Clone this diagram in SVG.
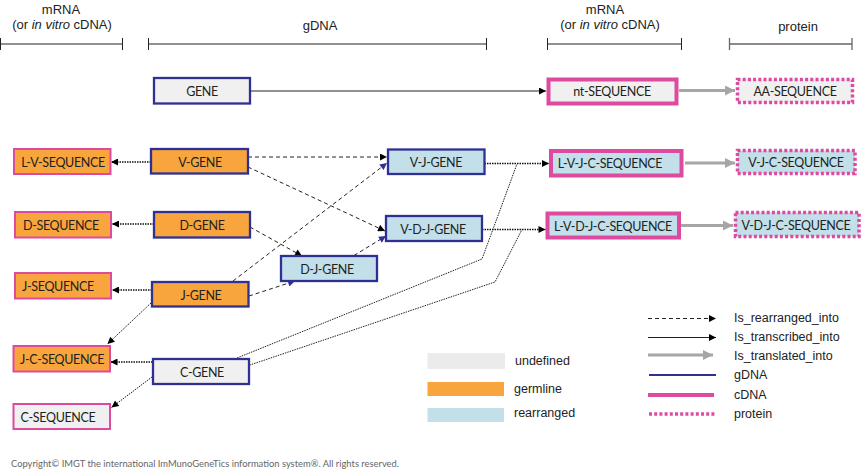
<svg xmlns="http://www.w3.org/2000/svg" width="861" height="470" viewBox="0 0 861 470">
<style>
.hd{font-family:"Liberation Sans",Arial,sans-serif;font-size:13px;fill:#222;text-anchor:middle}
.lg{font-family:"Liberation Sans",Arial,sans-serif;font-size:12.5px;fill:#222}
.nt{font-family:Lato,"Open Sans",sans-serif;font-size:12.5px;letter-spacing:-0.35px;fill:#231f20;text-anchor:middle}
.bar{stroke:#222;stroke-width:1;fill:none}
.gd{stroke:#2e3192;stroke-width:2.3}
.cd{stroke:#dd4aa0;stroke-width:2}
.cdt{stroke:#dd4aa0;stroke-width:4}
.pr{stroke:#dd4aa0;stroke-width:3.5;stroke-dasharray:3 2.2}
.und{fill:#f0f0f0}
.grm{fill:#f8a53d}
.rea{fill:#c2dfea}
.dash{stroke:#222;stroke-width:1;stroke-dasharray:4 3;fill:none}
.tr{stroke:#111;stroke-width:1.6;stroke-dasharray:1.5 1;fill:none}
.trt{stroke:#222;stroke-width:1;stroke-dasharray:1.5 1;fill:none}
.sol{stroke:#222;stroke-width:1;fill:none}
.gr{stroke:#a6a6a6;stroke-width:3;fill:none}
</style>
<defs>
<marker id="ab" viewBox="0 0 10 10" refX="10" refY="5" markerWidth="9" markerHeight="7" markerUnits="userSpaceOnUse" orient="auto"><path d="M0,0 L10,5 L0,10 z" fill="#000"/></marker>
<marker id="an" viewBox="0 0 10 10" refX="10" refY="5" markerWidth="9" markerHeight="7" markerUnits="userSpaceOnUse" orient="auto"><path d="M0,0 L10,5 L0,10 z" fill="#2e3192"/></marker>
<marker id="ag" viewBox="0 0 10 10" refX="10" refY="5" markerWidth="12" markerHeight="10" markerUnits="userSpaceOnUse" orient="auto"><path d="M0,0 L10,5 L0,10 z" fill="#a6a6a6"/></marker>
</defs>

<g id="headers">
<text class="hd" x="61" y="13.5">mRNA</text>
<text class="hd" x="62" y="29">(or <tspan font-style="italic">in vitro</tspan> cDNA)</text>
<path class="bar" d="M0.5,44 H122.5 M0.5,38 V50 M122.5,38 V50"/>
<text class="hd" x="320" y="29.5">gDNA</text>
<path class="bar" d="M148.5,44 H486.5 M148.5,38 V50 M486.5,38 V50"/>
<text class="hd" x="605" y="13.5">mRNA</text>
<text class="hd" x="610" y="29">(or <tspan font-style="italic">in vitro</tspan> cDNA)</text>
<path class="bar" d="M547.5,44 H681.5 M547.5,38 V50 M681.5,38 V50"/>
<text class="hd" x="798" y="30.5">protein</text>
<path class="bar" style="stroke:#666;stroke-width:1.3" d="M729.5,44 H852 M729.5,38 V50 M852,38 V50"/>
</g>

<g id="connectors">
<path class="sol" d="M250,91 L546,91" marker-end="url(#ab)"/>
<path class="gr" d="M679,90.5 L735,90.5" marker-end="url(#ag)"/>
<path class="gr" d="M685,163 L735,163" marker-end="url(#ag)"/>
<path class="gr" d="M681,225.5 L733,225.5" marker-end="url(#ag)"/>
<path class="tr" d="M151,162 L111,162" marker-end="url(#ab)"/>
<path class="tr" d="M154,224 L112,224" marker-end="url(#ab)"/>
<path class="tr" d="M152,290 L112,290" marker-end="url(#ab)"/>
<path class="tr" d="M152.5,362 L110.5,362" marker-end="url(#ab)"/>
<path class="trt" d="M151,303 L107.5,344" marker-end="url(#ab)"/>
<path class="trt" d="M152,377 L111.5,407.5" marker-end="url(#ab)"/>
<path class="dash" d="M248,157 L387,157" marker-end="url(#ab)"/>
<path class="dash" d="M248,167 L385,231" marker-end="url(#ab)"/>
<path class="dash" d="M250,227 L302,256" marker-end="url(#ab)"/>
<path class="dash" d="M249,296 L295,281" marker-end="url(#an)"/>
<path class="dash" d="M233,281 L387,163" marker-end="url(#an)"/>
<path class="dash" d="M354,255.5 L386,236" marker-end="url(#an)"/>
<path class="tr" d="M484.5,163.5 L549,163.5" marker-end="url(#ab)"/>
<path class="tr" d="M482,229.5 L545.5,229.5" marker-end="url(#ab)"/>
<path class="trt" d="M237,358 L482,259 L517,164"/>
<path class="trt" d="M247,366 L495,282 L522,229.5"/>
</g>

<g id="gene"><rect class="und gd" x="154" y="78" width="96" height="25.5"/><text class="nt" x="202" y="95.5">GENE</text></g>
<g id="nt-sequence"><rect class="und cdt" x="548.5" y="79.5" width="128" height="24"/><text class="nt" x="612" y="96">nt-SEQUENCE</text></g>
<g id="aa-sequence"><rect class="und pr" x="737.5" y="79.5" width="115" height="23"/><text class="nt" x="795" y="96">AA-SEQUENCE</text></g>

<g id="l-v-sequence"><rect class="grm cd" x="14" y="149" width="96.5" height="25"/><text class="nt" x="63" y="166.5">L-V-SEQUENCE</text></g>
<g id="v-gene"><rect class="grm gd" x="151" y="149" width="97" height="24.5"/><text class="nt" x="200" y="166.5">V-GENE</text></g>
<g id="v-j-gene"><rect class="rea gd" x="388" y="149.5" width="96.5" height="24.5"/><text class="nt" x="436" y="167">V-J-GENE</text></g>
<g id="l-v-j-c-sequence"><rect class="rea cdt" x="551" y="151" width="130.5" height="24.5"/><text class="nt" x="610" y="167.5">L-V-J-C-SEQUENCE</text></g>
<g id="v-j-c-sequence"><rect class="rea pr" x="737.5" y="150.5" width="117.5" height="23"/><text class="nt" x="796" y="167">V-J-C-SEQUENCE</text></g>

<g id="d-sequence"><rect class="grm cd" x="15" y="212" width="96" height="25.5"/><text class="nt" x="61" y="229.5">D-SEQUENCE</text></g>
<g id="d-gene"><rect class="grm gd" x="154" y="212" width="96" height="25.5"/><text class="nt" x="202" y="230">D-GENE</text></g>
<g id="v-d-j-gene"><rect class="rea gd" x="386" y="216" width="96" height="25"/><text class="nt" x="433" y="233.5">V-D-J-GENE</text></g>
<g id="l-v-d-j-c-sequence"><rect class="rea cdt" x="547.5" y="213.5" width="131.5" height="24"/><text class="nt" x="613" y="230.5">L-V-D-J-C-SEQUENCE</text></g>
<g id="v-d-j-c-sequence"><rect class="rea pr" x="735.5" y="212.5" width="123.5" height="24"/><text class="nt" x="796" y="229.5">V-D-J-C-SEQUENCE</text></g>

<g id="d-j-gene"><rect class="rea gd" x="281" y="256" width="96" height="25"/><text class="nt" x="327" y="273.5">D-J-GENE</text></g>
<g id="j-sequence"><rect class="grm cd" x="15" y="273" width="96" height="25.5"/><text class="nt" x="58" y="290.5">J-SEQUENCE</text></g>
<g id="j-gene"><rect class="grm gd" x="152" y="282" width="96.5" height="24.5"/><text class="nt" x="201" y="299.5">J-GENE</text></g>

<g id="j-c-sequence"><rect class="grm cd" x="13.5" y="346" width="96.5" height="25.5"/><text class="nt" x="62" y="363.5">J-C-SEQUENCE</text></g>
<g id="c-gene"><rect class="und gd" x="153" y="359" width="96" height="25"/><text class="nt" x="202" y="376.5">C-GENE</text></g>
<g id="c-sequence"><rect class="und cd" x="13.5" y="404" width="96.5" height="25"/><text class="nt" x="58" y="421.5">C-SEQUENCE</text></g>

<g id="legend">
<rect x="427.5" y="353" width="77.5" height="16" fill="#ebebeb"/>
<text class="lg" x="515" y="365">undefined</text>
<rect x="427.5" y="382" width="76.5" height="14" fill="#f8a53d"/>
<text class="lg" x="514" y="393">germline</text>
<rect x="427.5" y="408" width="76.5" height="14" fill="#c2dfea"/>
<text class="lg" x="514" y="416.5">rearranged</text>

<path class="dash" d="M648,318.5 L716,318.5" marker-end="url(#ab)"/>
<text class="lg" x="734" y="322">Is_rearranged_into</text>
<path class="sol" d="M648,337.5 L716,337.5" marker-end="url(#ab)"/>
<text class="lg" x="734" y="341">Is_transcribed_into</text>
<path class="gr" d="M648,355 L713,355" marker-end="url(#ag)"/>
<text class="lg" x="734" y="360">Is_translated_into</text>
<path d="M649,375 L716,375" stroke="#2e3192" stroke-width="2"/>
<text class="lg" x="734" y="379">gDNA</text>
<path d="M648,395 L714,395" stroke="#dd4aa0" stroke-width="4"/>
<text class="lg" x="734" y="398.5">cDNA</text>
<path d="M649,414 L716,414" stroke="#dd4aa0" stroke-width="3.5" stroke-dasharray="3 2.2"/>
<text class="lg" x="734" y="418">protein</text>
</g>

<text x="11" y="467" font-family="Lato,'Open Sans',sans-serif" font-size="10px" fill="#666" textLength="388" lengthAdjust="spacingAndGlyphs">Copyright© IMGT the international ImMunoGeneTics information system®. All rights reserved.</text>
</svg>
